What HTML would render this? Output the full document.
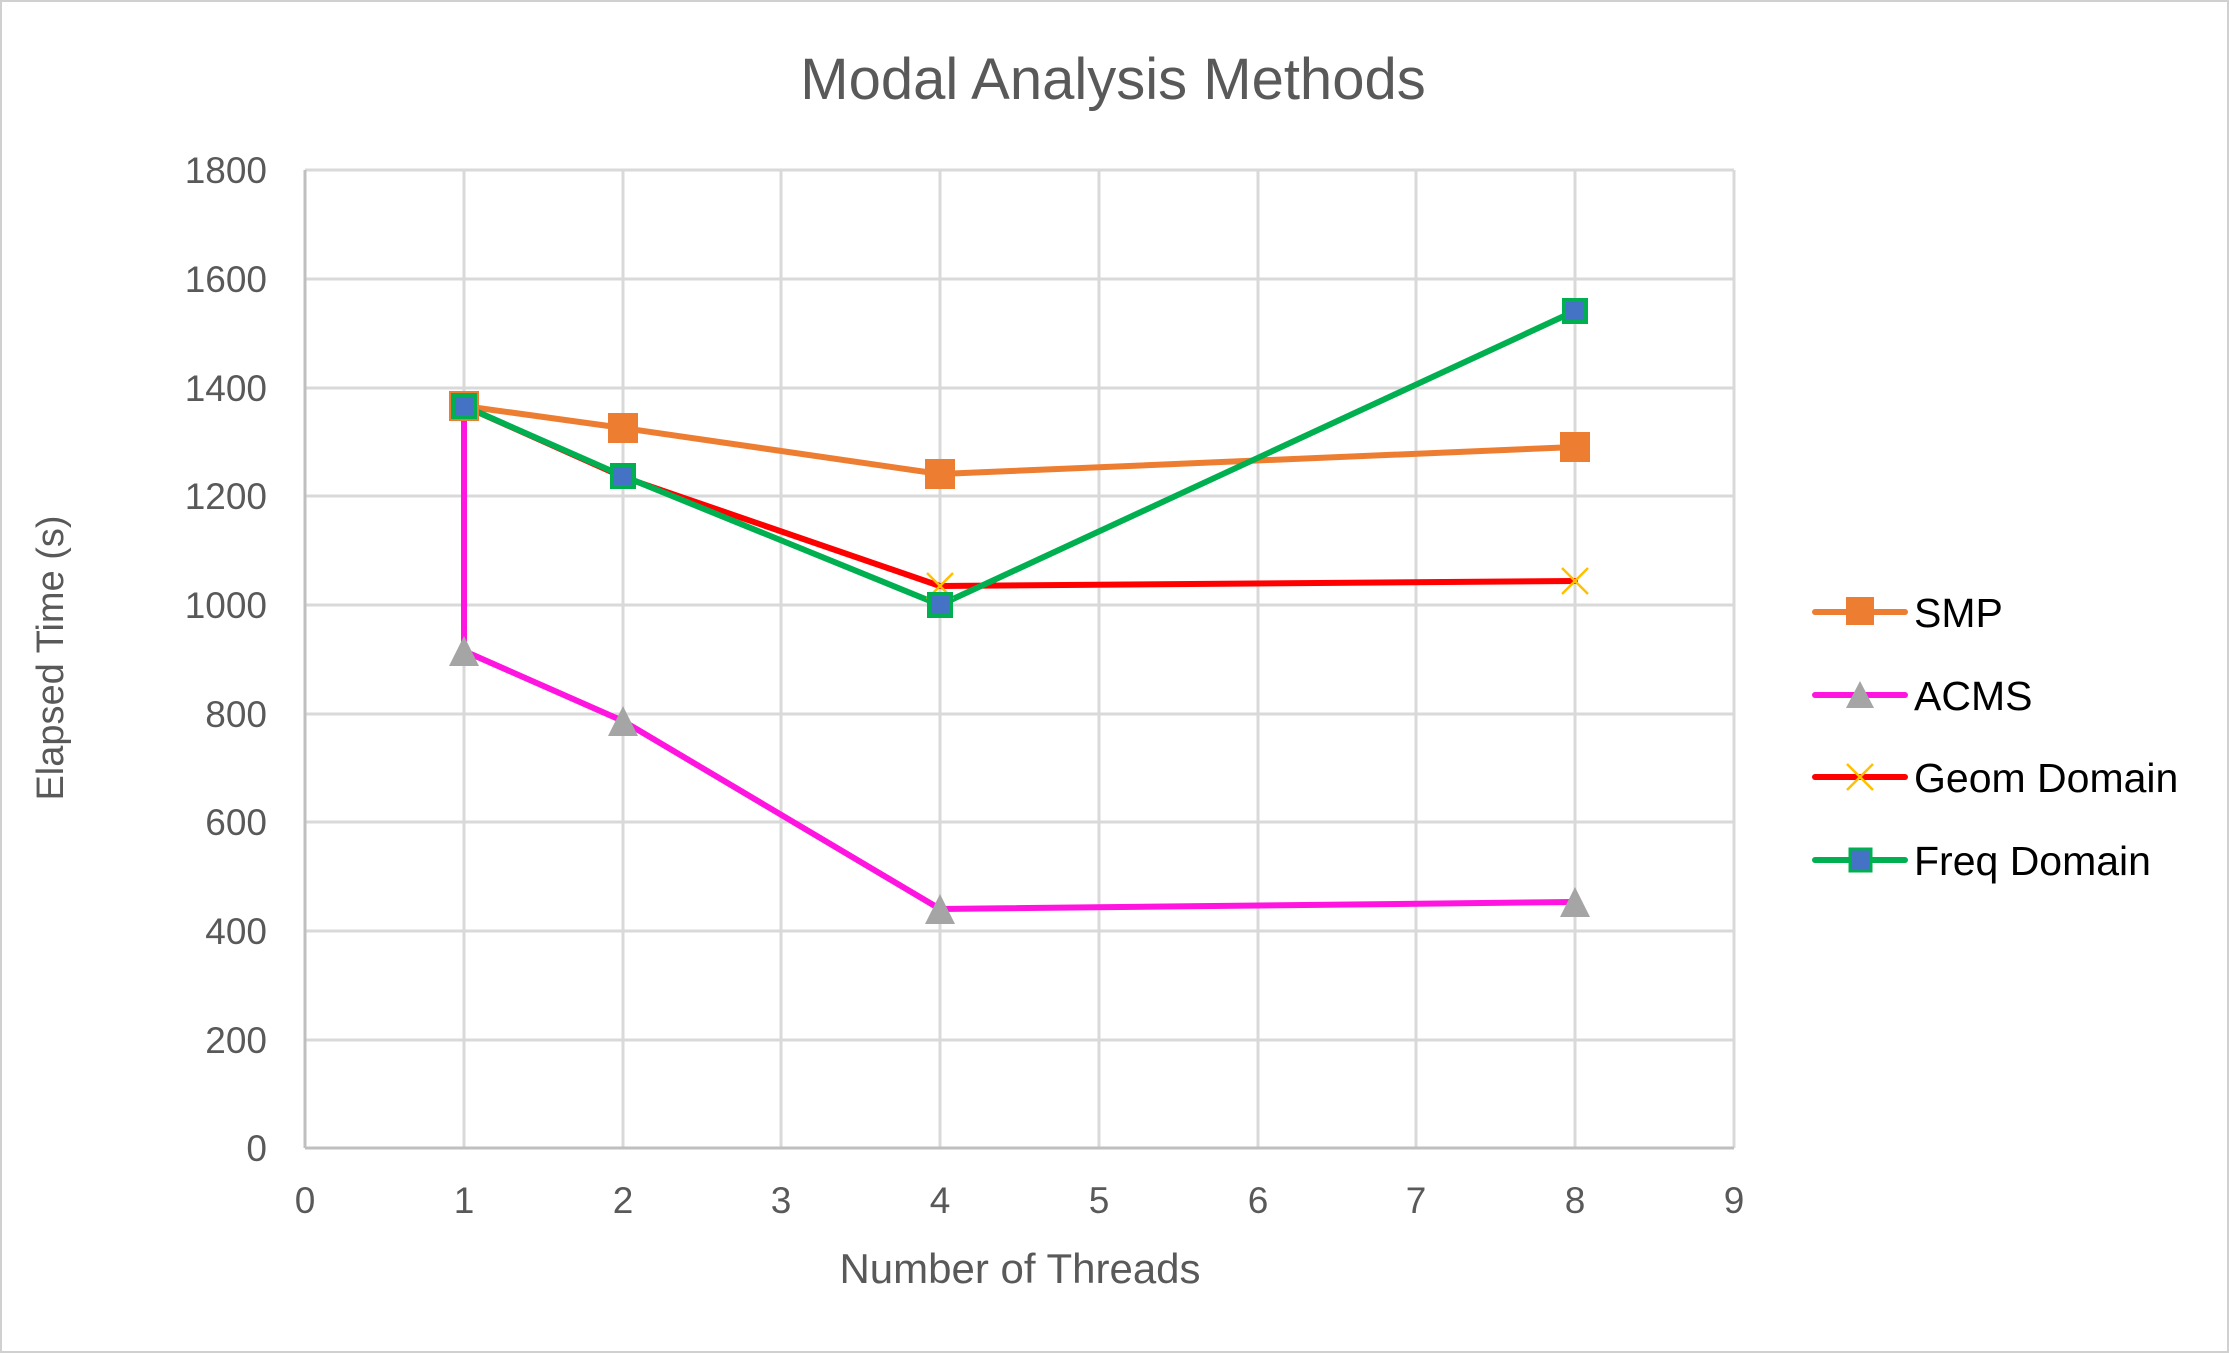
<!DOCTYPE html>
<html><head><style>body{margin:0;background:#fff}svg{display:block}</style></head><body>
<svg width="2229" height="1353" xmlns="http://www.w3.org/2000/svg" font-family="Liberation Sans, sans-serif">
<rect x="1" y="1" width="2227" height="1351" fill="#fff" stroke="#d0d0d0" stroke-width="2"/>
<text x="1113" y="99" font-size="58" fill="#595959" text-anchor="middle">Modal Analysis Methods</text>
<g stroke="#d9d9d9" stroke-width="3">
<line x1="305" y1="170" x2="1734" y2="170"/><line x1="305" y1="279" x2="1734" y2="279"/><line x1="305" y1="388" x2="1734" y2="388"/><line x1="305" y1="496" x2="1734" y2="496"/><line x1="305" y1="605" x2="1734" y2="605"/><line x1="305" y1="714" x2="1734" y2="714"/><line x1="305" y1="822" x2="1734" y2="822"/><line x1="305" y1="931" x2="1734" y2="931"/><line x1="305" y1="1040" x2="1734" y2="1040"/>
<line x1="464" y1="170" x2="464" y2="1148"/><line x1="623" y1="170" x2="623" y2="1148"/><line x1="781" y1="170" x2="781" y2="1148"/><line x1="940" y1="170" x2="940" y2="1148"/><line x1="1099" y1="170" x2="1099" y2="1148"/><line x1="1258" y1="170" x2="1258" y2="1148"/><line x1="1416" y1="170" x2="1416" y2="1148"/><line x1="1575" y1="170" x2="1575" y2="1148"/><line x1="1734" y1="170" x2="1734" y2="1148"/>
</g>
<g stroke="#bfbfbf" stroke-width="3"><line x1="305" y1="170" x2="305" y2="1148"/><line x1="305" y1="1148" x2="1734" y2="1148"/></g>
<g font-size="37" fill="#595959" text-anchor="end">
<text x="267" y="183">1800</text><text x="267" y="292">1600</text><text x="267" y="401">1400</text><text x="267" y="509">1200</text><text x="267" y="618">1000</text><text x="267" y="727">800</text><text x="267" y="835">600</text><text x="267" y="944">400</text><text x="267" y="1053">200</text><text x="267" y="1161">0</text>
</g>
<g font-size="37" fill="#595959" text-anchor="middle">
<text x="305" y="1213">0</text><text x="464" y="1213">1</text><text x="623" y="1213">2</text><text x="781" y="1213">3</text><text x="940" y="1213">4</text><text x="1099" y="1213">5</text><text x="1258" y="1213">6</text><text x="1416" y="1213">7</text><text x="1575" y="1213">8</text><text x="1734" y="1213">9</text>
</g>
<text x="1020" y="1283" font-size="42" fill="#595959" text-anchor="middle">Number of Threads</text>
<text transform="translate(63,658) rotate(-90)" font-size="38" fill="#595959" text-anchor="middle">Elapsed Time (s)</text>
<g fill="none" stroke-width="6" stroke-linejoin="round" stroke-linecap="round">
<polyline stroke="#ed7d31" points="464,406 623,428 940,474 1575,447"/>
<polyline stroke="#ff14e0" points="464,406 464,651 623,721 940,909 1575,902"/>
<polyline stroke="#ff0000" points="464,406 623,477 940,586 1575,581"/>
<polyline stroke="#00b050" points="464,406 623,476 940,605 1575,311"/>
</g>
<g fill="#ed7d31"><rect x="449" y="391" width="30" height="30"/><rect x="608" y="413" width="30" height="30"/><rect x="925" y="459" width="30" height="30"/><rect x="1560" y="432" width="30" height="30"/></g>
<g fill="#a5a5a5"><polygon points="623,706 638,736 608,736"/><polygon points="464,636 479,666 449,666"/><polygon points="940,894 955,924 925,924"/><polygon points="1575,887 1590,917 1560,917"/></g>
<g stroke="#ffc000" stroke-width="2.5"><path d="M927,573 l26,26 M953,573 l-26,26 M1562,568 l26,26 M1588,568 l-26,26"/></g>
<g fill="#4472c4" stroke="#00b050" stroke-width="4"><rect x="453" y="395" width="22" height="22"/><rect x="612" y="465" width="22" height="22"/><rect x="929" y="594" width="22" height="22"/><rect x="1564" y="300" width="22" height="22"/></g>
<g stroke-width="6" stroke-linecap="round">
<line x1="1815" y1="612" x2="1905" y2="612" stroke="#ed7d31"/>
<line x1="1815" y1="695" x2="1905" y2="695" stroke="#ff14e0"/>
<line x1="1815" y1="777" x2="1905" y2="777" stroke="#ff0000"/>
<line x1="1815" y1="860" x2="1905" y2="860" stroke="#00b050"/>
</g>
<rect x="1846" y="597" width="28" height="28" fill="#ed7d31"/>
<polygon points="1860,681 1874,708 1846,708" fill="#a5a5a5"/>
<path d="M1847,764 l26,26 M1873,764 l-26,26" stroke="#ffc000" stroke-width="2.5"/>
<rect x="1850" y="849" width="21" height="22" fill="#4472c4" stroke="#00b050" stroke-width="3"/>
<g font-size="41" fill="#000">
<text x="1914" y="627">SMP</text><text x="1914" y="710">ACMS</text><text x="1914" y="792">Geom Domain</text><text x="1914" y="875">Freq Domain</text>
</g>
</svg>
</body></html>
